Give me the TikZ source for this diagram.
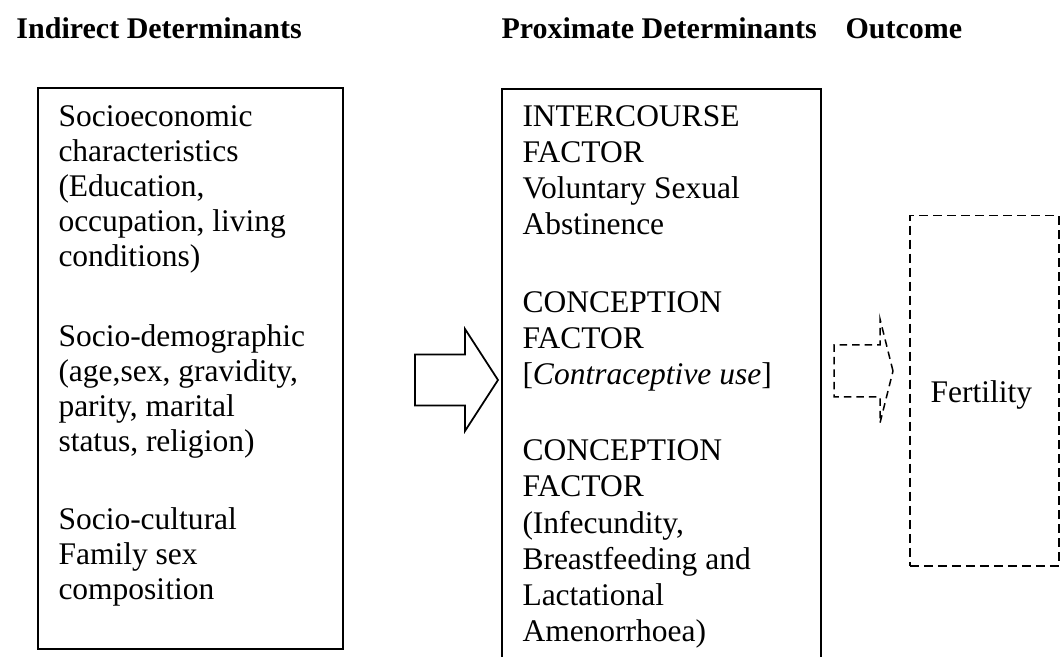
\documentclass[tikz,border=0pt]{standalone}
\usepackage{fontspec}
\setmainfont{Liberation Serif}
\usetikzlibrary{positioning}
\tikzset{
  heading/.style={anchor=base west, inner sep=0pt,
    font=\bfseries\fontsize{12}{14}\selectfont},
  leftlines/.style={anchor=base west, inner sep=0pt, align=left,
    font=\fontsize{12.6}{14}\selectfont},
  midlines/.style={anchor=base west, inner sep=0pt, align=left,
    font=\fontsize{12.6}{14.5}\selectfont},
  detbox/.style={draw, line width=0.8pt, anchor=north west, inner sep=0pt},
  outbox/.style={draw, line width=0.6pt, dash pattern=on 3.6pt off 2pt,
    anchor=north west, inner sep=0pt},
  blockarrow/.style={draw, line width=0.7pt, fill=white, line join=miter},
  dashedarrow/.style={draw, line width=0.6pt, dash pattern=on 3pt off 2pt}
}
\begin{document}
\begin{tikzpicture}[x=0.4pt,y=-0.4pt]
  \useasboundingbox (0,0) rectangle (1060,657);
  % column titles
  \node[heading] (hindirect) at (16,39) {Indirect Determinants};
  \node[heading] (hproximate) at (501,39) {Proximate Determinants};
  \node[heading] (houtcome) at (845,39) {Outcome};
  % the three boxes
  \node[detbox, minimum width=122pt, minimum height=224.4pt] (indirect) at (37,87) {};
  \node[detbox, minimum width=127.6pt, minimum height=240pt] (proximate) at (501,88) {};
  \node[outbox, minimum width=59.6pt, minimum height=140pt] (outcome) at (909,215) {};
  % indirect determinants (anchored at the last line)
  \node[leftlines] (socioeco) at (58,267)
    {Socioeconomic\\characteristics\\(Education,\\occupation, living\\conditions)};
  \node[leftlines] (sociodem) at (58,452)
    {Socio-demographic\\(age,sex, gravidity,\\parity, marital\\status, religion)};
  \node[leftlines] (sociocult) at (58,600)
    {Socio-cultural\\Family sex\\composition};
  % proximate determinants
  \node[midlines] (intercourse) at (522,235)
    {INTERCOURSE\\FACTOR\\Voluntary Sexual\\Abstinence};
  \node[midlines] (contra) at (522,385)
    {CONCEPTION\\FACTOR\\{[}\textit{Contraceptive use}{]}};
  \node[midlines] (infec) at (522,642)
    {CONCEPTION\\FACTOR\\(Infecundity,\\Breastfeeding and\\Lactational\\Amenorrhoea)};
  % outcome
  \node[leftlines] (fertility) at (930,403) {Fertility};
  % block arrows
  \coordinate (bigtip) at (498,380);
  \coordinate (dashtip) at (893,371);
  \draw[blockarrow] (bigtip) -- ++(-33,-51) -- ++(0,25.5) -- ++(-50,0)
    -- ++(0,51) -- ++(50,0) -- ++(0,25.5) -- cycle;
  \draw[dashedarrow] (dashtip) -- ++(-13,-52) -- ++(0,26) -- ++(-46,0)
    -- ++(0,52) -- ++(46,0) -- ++(0,26) -- cycle;
\end{tikzpicture}
\end{document}
